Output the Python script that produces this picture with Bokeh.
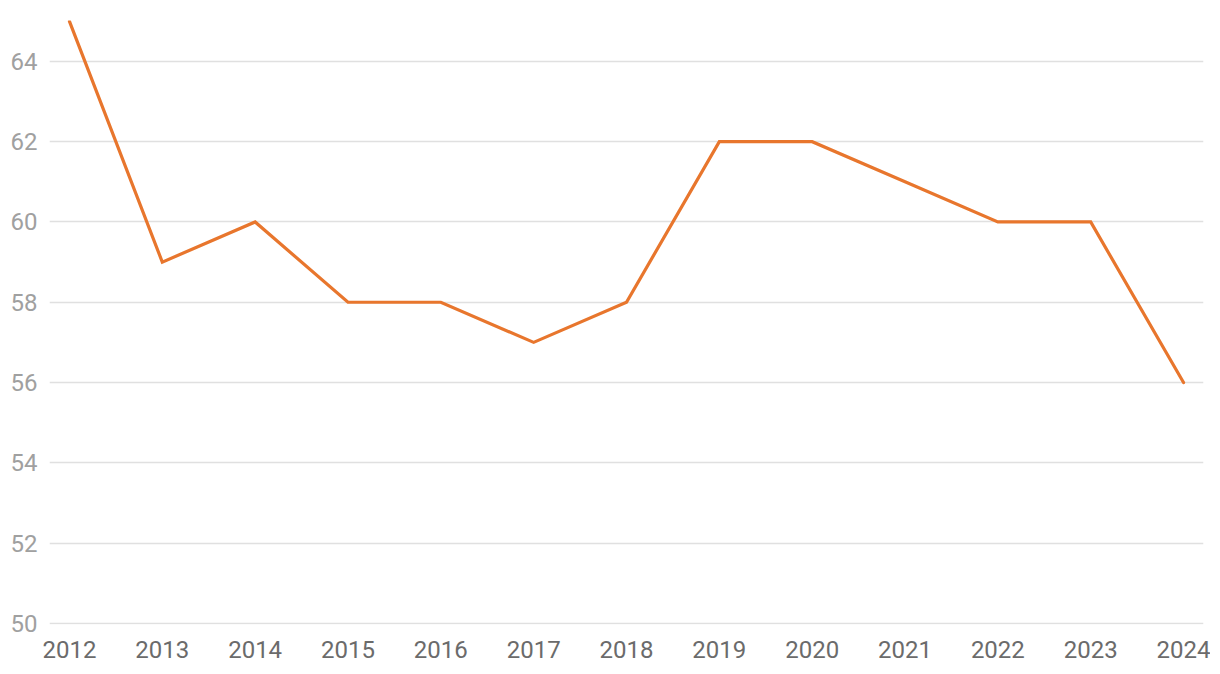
from bokeh.plotting import figure
from bokeh.models import Range1d, FixedTicker
from bokeh.embed import file_html
from bokeh.resources import INLINE

years = [2012, 2013, 2014, 2015, 2016, 2017, 2018, 2019, 2020, 2021, 2022, 2023, 2024]
values = [65, 59, 60, 58, 58, 57, 58, 62, 62, 61, 60, 60, 56]
y_ticks = [50, 52, 54, 56, 58, 60, 62, 64]

p = figure(width=1210, height=670, output_backend="svg", toolbar_location=None,
           x_range=Range1d(2011.785, 2024.215), y_range=Range1d(49.97, 65.02),
           min_border_left=49, min_border_right=7, min_border_top=20, min_border_bottom=46)
p.outline_line_color = None
p.background_fill_color = "white"
p.border_fill_color = "white"

p.line(years, values, line_color="#E8762D", line_width=3.2, line_join="miter", line_cap="round")

p.xgrid.grid_line_color = None
p.ygrid.grid_line_color = "#e0e0e0"
p.ygrid.grid_line_width = 1.5

p.xaxis.ticker = FixedTicker(ticks=years)
p.yaxis.ticker = FixedTicker(ticks=y_ticks)
p.xaxis.formatter.use_scientific = False
for ax in (p.xaxis, p.yaxis):
    ax.axis_line_color = None
    ax.major_tick_line_color = None
    ax.minor_tick_line_color = None
    ax.major_tick_out = 0
    ax.major_tick_in = 0
    ax.major_label_text_font = "Roboto"
    ax.major_label_text_font_size = "24px"
p.xaxis.major_label_text_color = "#6b6b6b"
p.yaxis.major_label_text_color = "#a0a0a0"
p.xaxis.major_label_standoff = 16
p.yaxis.major_label_standoff = 12

open("out.html", "w").write(file_html(p, INLINE))
